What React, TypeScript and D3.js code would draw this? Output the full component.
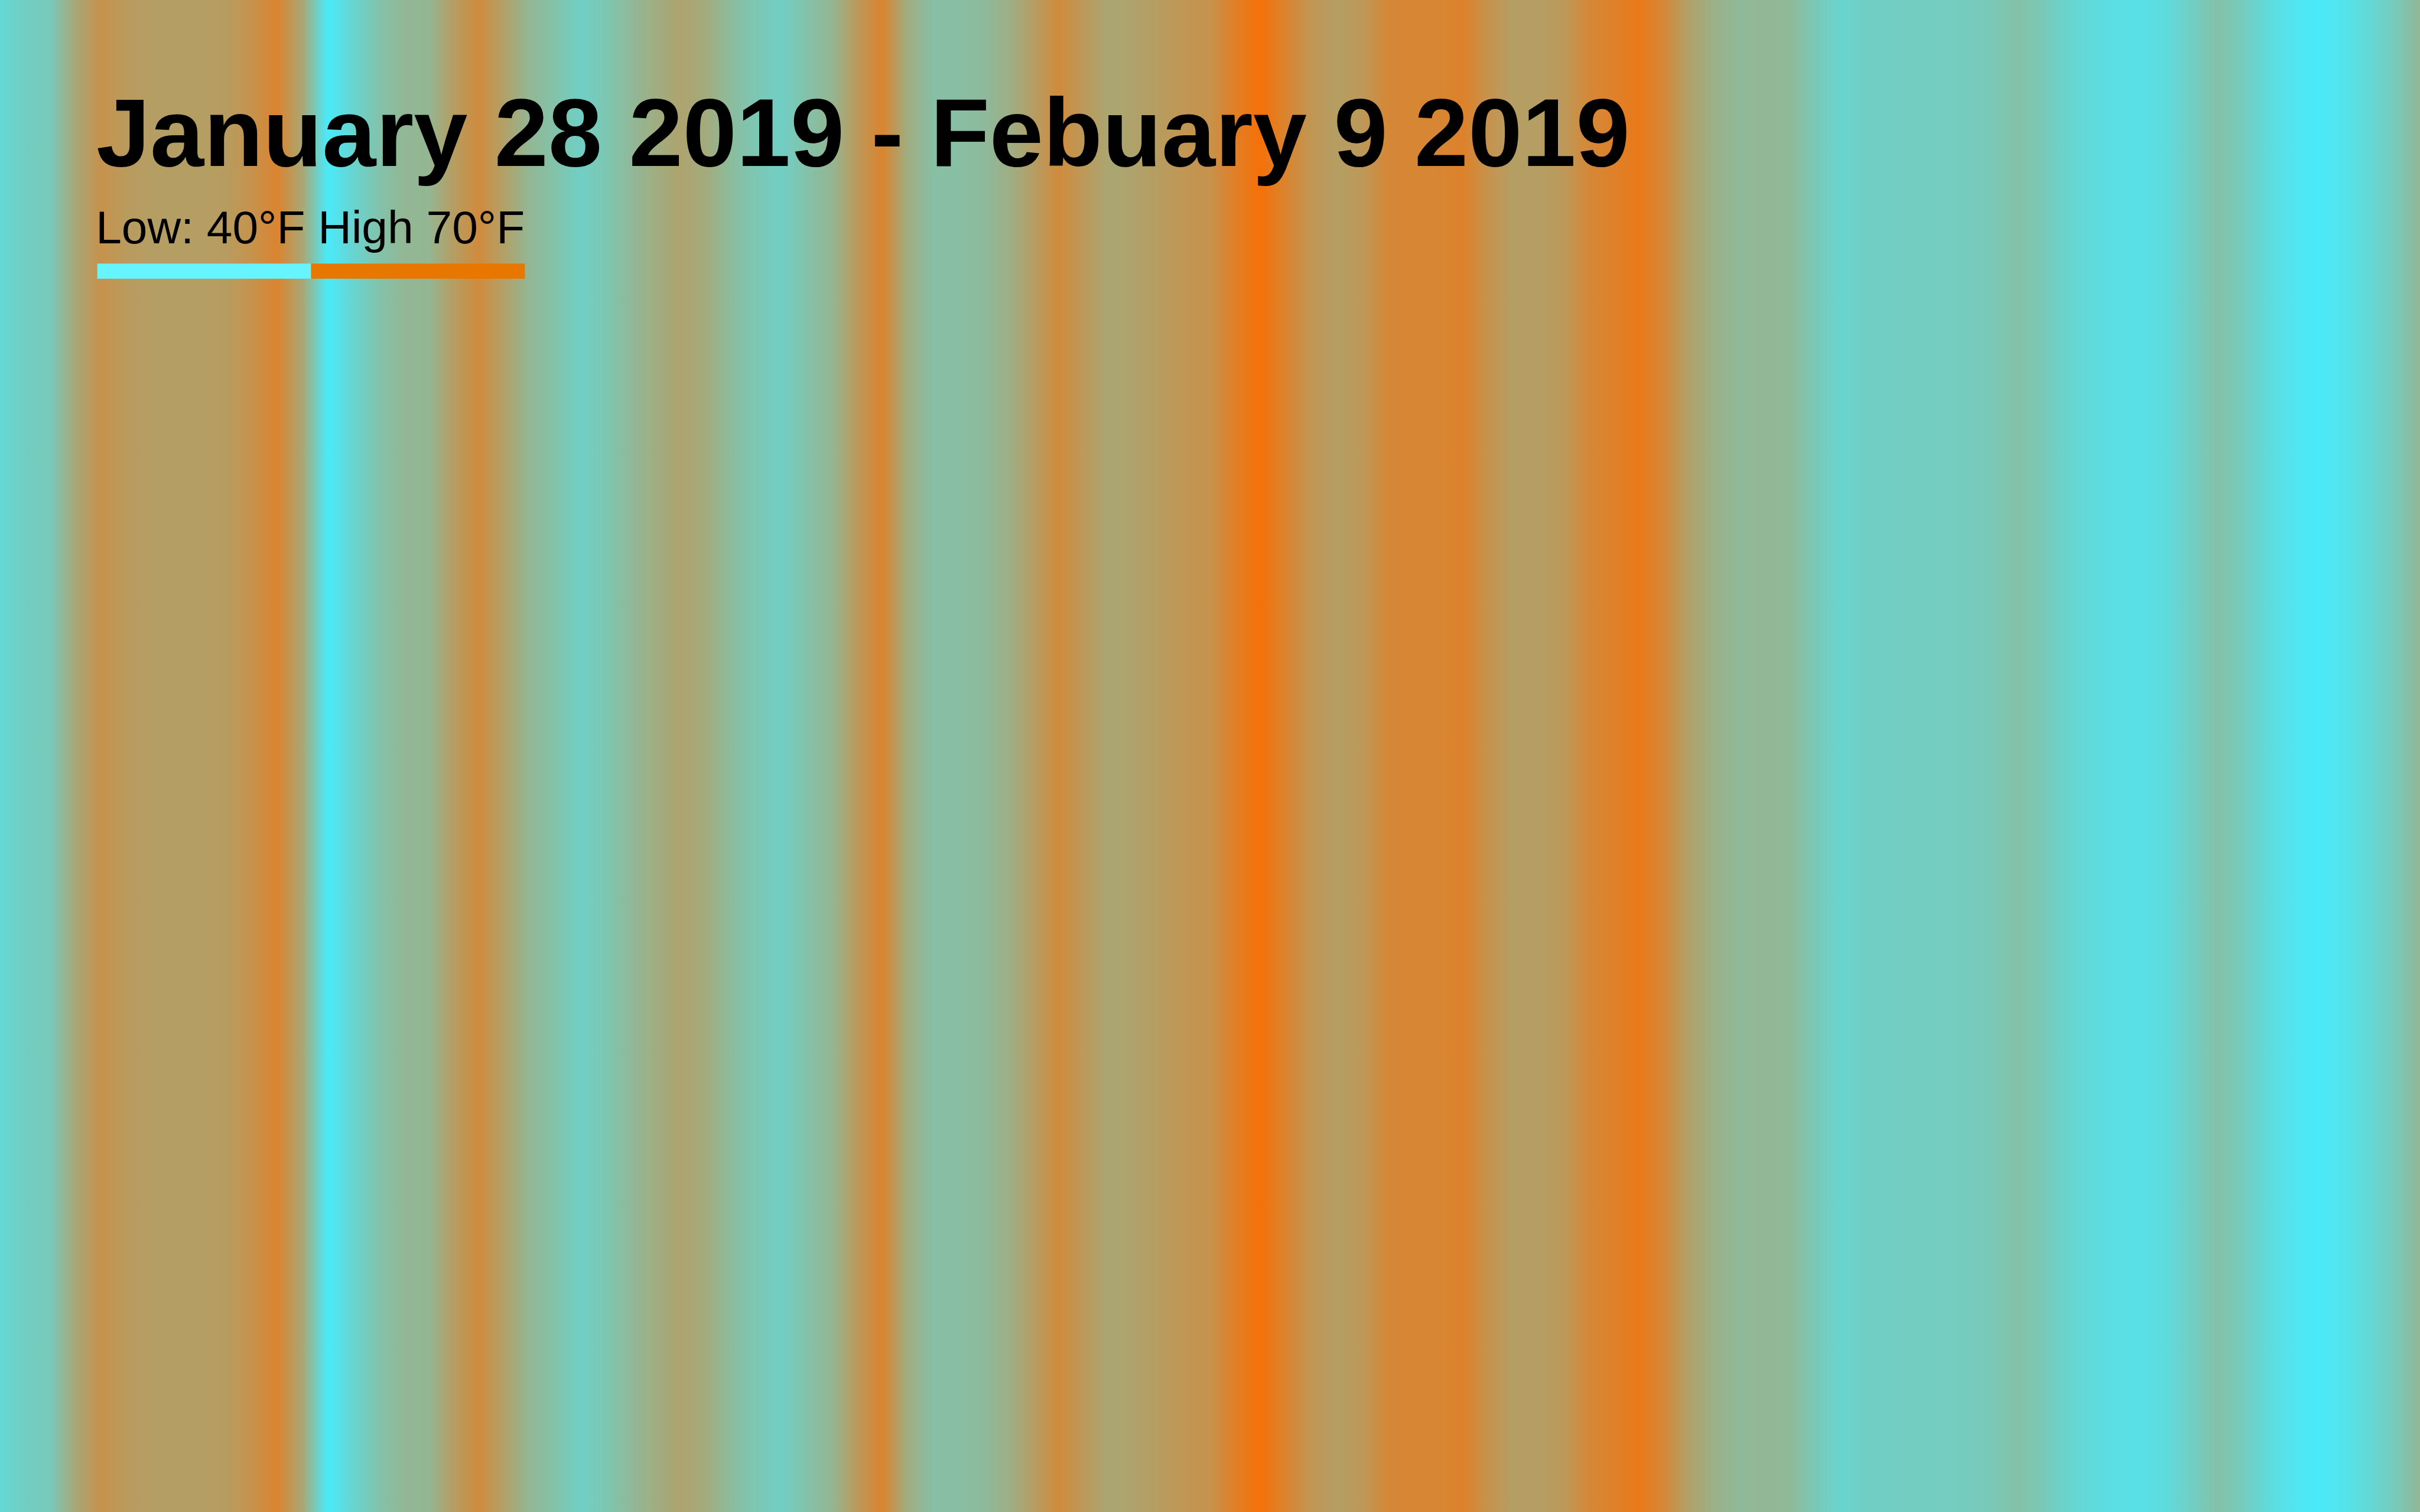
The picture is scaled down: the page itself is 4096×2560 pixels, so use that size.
import React from "react";
import * as d3 from "d3";

// Temperatures (°F) read across the stripes, evenly spaced in time from left to right
const temperatures: number[] = [
  44.5, 46.9, 48.1, 56.5, 61.6, 59.5, 58.6, 58.6, 58.6, 59.2,
  61.6, 65.2, 56.5, 40.0, 45.1, 49.6, 52.6, 52.9, 58.9, 63.4,
  58.0, 52.6, 49.9, 46.6, 48.7, 52.0, 55.0, 57.4, 55.6, 51.4,
  48.7, 46.6, 49.9, 52.9, 59.8, 65.2, 55.0, 50.8, 50.8, 51.7,
  54.4, 58.6, 63.4, 59.8, 56.8, 57.7, 59.2, 60.7, 61.6, 66.4,
  70.0, 65.2, 60.7, 58.6, 59.8, 64.0, 64.6, 64.6, 65.8, 61.6,
  58.6, 58.6, 59.8, 64.0, 65.8, 67.9, 64.0, 58.0, 54.1, 52.0,
  52.6, 52.0, 48.4, 45.4, 46.6, 46.9, 47.2, 47.2, 47.5, 48.4,
  50.2, 48.4, 45.4, 43.6, 42.7, 42.4, 43.9, 46.9, 50.2, 47.5,
  43.6, 41.2, 40.0, 41.8, 44.5, 47.8, 52.6,
];

const titleText = "January 28 2019 - Febuary 9 2019";
const legendLabel = "Low: 40°F High 70°F";
const lowTemp = 40;
const highTemp = 70;
const stripeColors = ["#4aeafa", "#f67008"];
const legendColors = ["#66f5ff", "#e87700"];

const W = 4800;
const H = 3000;

export default function App() {
  const color = d3
    .scaleLinear<string>()
    .domain([lowTemp, highTemp])
    .range(stripeColors)
    .interpolate(d3.interpolateRgb)
    .clamp(true);
  const offset = d3
    .scaleLinear()
    .domain([0, temperatures.length - 1])
    .range([0, 100]);

  const legendX = d3.scaleLinear().domain([0, 2]).range([193, 1041]);

  return (
    <svg
      width={4096}
      height={2560}
      viewBox={`0 0 ${W} ${H}`}
      style={{ position: "fixed", left: 0, top: 0, display: "block" }}
    >
      <defs>
        <linearGradient id="stripes" x1="0" y1="0" x2="1" y2="0">
          {temperatures.map((t, i) => (
            <stop key={i} offset={`${offset(i)}%`} stopColor={color(t)} />
          ))}
        </linearGradient>
      </defs>
      <rect x={0} y={0} width={W} height={H} fill="url(#stripes)" />
      <text
        x={191}
        y={329}
        fontFamily="'Liberation Sans', Arial, Helvetica, sans-serif"
        fontWeight="bold"
        fontSize={192}
        fill="#000"
      >
        {titleText}
      </text>
      <text
        x={190}
        y={483}
        fontFamily="'Liberation Sans', Arial, Helvetica, sans-serif"
        fontSize={92}
        fill="#000"
      >
        {legendLabel}
      </text>
      {legendColors.map((c, i) => (
        <rect
          key={i}
          x={legendX(i)}
          y={523}
          width={legendX(i + 1) - legendX(i)}
          height={30}
          fill={c}
        />
      ))}
    </svg>
  );
}
